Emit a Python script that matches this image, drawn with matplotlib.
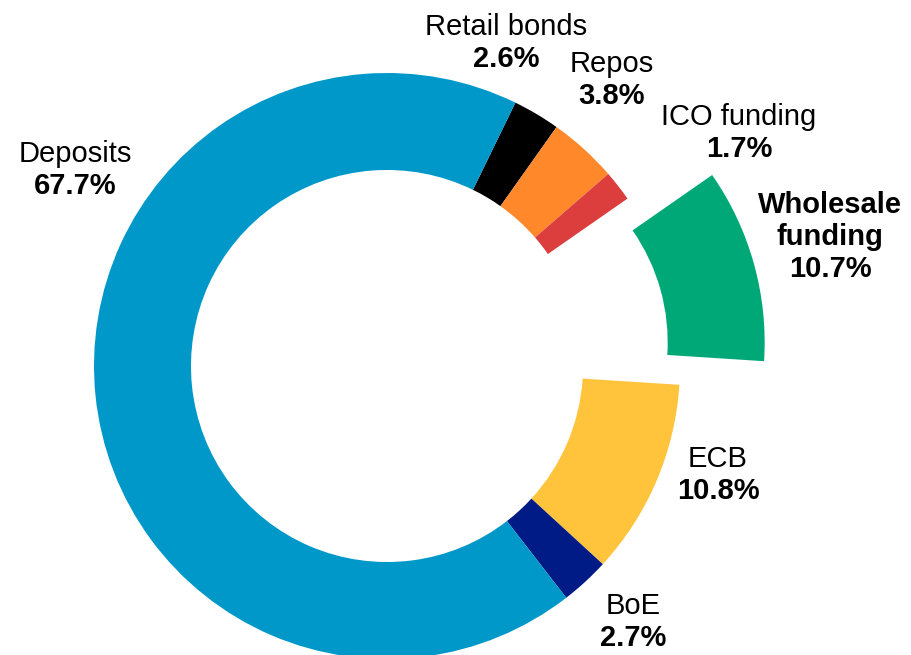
import matplotlib
matplotlib.use("Agg")
import matplotlib.pyplot as plt

# Funding mix, clockwise from the top
categories = ["Retail bonds", "Repos", "ICO funding", "Wholesale funding",
              "ECB", "BoE", "Deposits"]
shares = [2.6, 3.8, 1.7, 10.7, 10.8, 2.7, 67.7]
colors = ["#000000", "#FF882B", "#DC3E3E", "#00A878",
          "#FFC43C", "#001A86", "#0098C8"]
explode = [0, 0, 0, 0.30, 0, 0, 0]

# label block centres in pixels (x, y from top), and how each is typeset
label_pos = [(506, 43), (612, 80), (739, 133), (830, 237),
             (718, 475), (633, 622), (75, 170)]
label_text = ["Retail bonds", "Repos", "ICO funding", "Wholesale\nfunding",
              "ECB", "BoE", "Deposits"]
label_bold_name = [False, False, False, True, False, False, False]

W, H = 911, 655
CX, CY, R = 387, 366, 293  # donut centre and outer radius in pixels

plt.rcParams["font.family"] = ["Liberation Sans", "DejaVu Sans"]

fig = plt.figure(figsize=(W / 100, H / 100), dpi=100)
ax = fig.add_axes([0, 0, 1, 1])

ax.pie(shares, colors=colors, explode=explode, startangle=64,
       counterclock=False, radius=1.0,
       wedgeprops=dict(width=0.331, edgecolor="none", linewidth=0))

ax.set_xlim(-CX / R, (W - CX) / R)
ax.set_ylim(-(H - CY) / R, CY / R)
ax.set_aspect("equal", adjustable="datalim")
ax.axis("off")

fs = 21
line_px = 32
for name, val, (px, py), bold in zip(label_text, shares, label_pos, label_bold_name):
    lines = name.split("\n")
    n = len(lines) + 1
    top = py - (n - 1) * line_px / 2
    for i, ln in enumerate(lines):
        y = top + i * line_px
        fig.text(px / W, 1 - y / H, ln, ha="center", va="center",
                 fontsize=fs, fontweight="bold" if bold else "normal")
    y = top + len(lines) * line_px
    fig.text(px / W, 1 - y / H, f"{val:.1f}%", ha="center", va="center",
             fontsize=fs, fontweight="bold")

fig.savefig("out.png", dpi=100, facecolor="white")
